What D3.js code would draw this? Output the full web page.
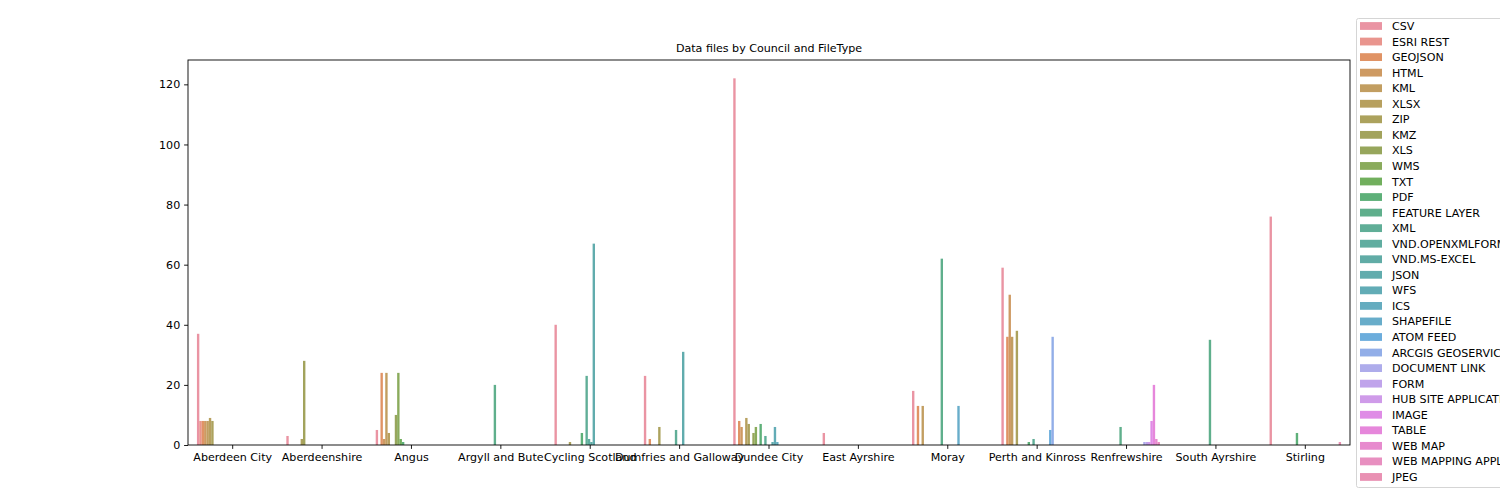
<!DOCTYPE html>
<html>
<head>
<meta charset="utf-8">
<script src="https://cdn.jsdelivr.net/npm/d3@7"></script>
<style>
  body { margin: 0; overflow: hidden; background: #fff; }
  svg { font-family: "DejaVu Sans", sans-serif; }
</style>
</head>
<body>
<div id="chart"></div>
<script>
var councils = ["Aberdeen City", "Aberdeenshire", "Angus", "Argyll and Bute", "Cycling Scotland",
    "Dumfries and Galloway", "Dundee City", "East Ayrshire", "Moray", "Perth and Kinross",
    "Renfrewshire", "South Ayrshire", "Stirling"];

var fileTypes = ["CSV", "ESRI REST", "GEOJSON", "HTML", "KML", "XLSX", "ZIP", "KMZ", "XLS", "WMS",
    "TXT", "PDF", "FEATURE LAYER", "XML", "VND.OPENXMLFORMATS-OFFICEDOCUMENT.SPREADSHEETML.SHEET",
    "VND.MS-EXCEL", "JSON", "WFS", "ICS", "SHAPEFILE", "ATOM FEED", "ARCGIS GEOSERVICES REST API",
    "DOCUMENT LINK", "FORM", "HUB SITE APPLICATION", "IMAGE", "TABLE", "WEB MAP",
    "WEB MAPPING APPLICATION", "JPEG"];

// one row per council, one value per file type (same order as fileTypes)
var counts = [
    [37, 8, 8, 8, 8, 9, 8, 0, 0, 0, 0, 0, 0, 0, 0, 0, 0, 0, 0, 0, 0, 0, 0, 0, 0, 0, 0, 0, 0, 0],
    [3, 0, 0, 0, 0, 0, 2, 28, 0, 0, 0, 0, 0, 0, 0, 0, 0, 0, 0, 0, 0, 0, 0, 0, 0, 0, 0, 0, 0, 0],
    [5, 0, 24, 2, 24, 4, 0, 0, 10, 24, 2, 1, 0, 0, 0, 0, 0, 0, 0, 0, 0, 0, 0, 0, 0, 0, 0, 0, 0, 0],
    [0, 0, 0, 0, 0, 0, 0, 0, 0, 0, 0, 0, 20, 0, 0, 0, 0, 0, 0, 0, 0, 0, 0, 0, 0, 0, 0, 0, 0, 0],
    [40, 0, 0, 0, 0, 0, 1, 0, 0, 0, 0, 4, 0, 23, 2, 1, 67, 0, 0, 0, 0, 0, 0, 0, 0, 0, 0, 0, 0, 0],
    [23, 0, 2, 0, 0, 0, 6, 0, 0, 0, 0, 0, 0, 5, 0, 0, 31, 0, 0, 0, 0, 0, 0, 0, 0, 0, 0, 0, 0, 0],
    [122, 0, 8, 6, 0, 9, 7, 0, 4, 6, 0, 7, 0, 3, 0, 0, 1, 6, 1, 0, 0, 0, 0, 0, 0, 0, 0, 0, 0, 0],
    [4, 0, 0, 0, 0, 0, 0, 0, 0, 0, 0, 0, 0, 0, 0, 0, 0, 0, 0, 0, 0, 0, 0, 0, 0, 0, 0, 0, 0, 0],
    [18, 0, 13, 0, 13, 0, 0, 0, 0, 0, 0, 0, 62, 0, 0, 0, 0, 0, 0, 13, 0, 0, 0, 0, 0, 0, 0, 0, 0, 0],
    [59, 0, 36, 50, 36, 0, 38, 0, 0, 0, 0, 1, 0, 2, 0, 0, 0, 0, 0, 0, 5, 36, 0, 0, 0, 0, 0, 0, 0, 0],
    [0, 0, 0, 0, 0, 0, 0, 0, 0, 0, 0, 0, 6, 0, 0, 0, 0, 0, 0, 0, 0, 0, 1, 1, 1, 8, 20, 2, 1, 0],
    [0, 0, 0, 0, 0, 0, 0, 0, 0, 0, 0, 0, 35, 0, 0, 0, 0, 0, 0, 0, 0, 0, 0, 0, 0, 0, 0, 0, 0, 0],
    [76, 0, 0, 0, 0, 0, 0, 0, 0, 0, 0, 4, 0, 0, 0, 0, 0, 0, 0, 0, 0, 0, 0, 0, 0, 0, 0, 0, 0, 1]
];

var yTicks = [0, 20, 40, 60, 80, 100, 120];

// husl palette like seaborn, then desaturated to 0.75 as barplot does
var M = [[3.2406, -1.5372, -0.4986], [-0.9689, 1.8758, 0.0415], [0.0557, -0.2040, 1.0570]];

function maxChroma(L, H) {
    var hrad = H * Math.PI / 180, sinH = Math.sin(hrad), cosH = Math.cos(hrad);
    var sub1 = Math.pow(L + 16, 3) / 1560896;
    var sub2 = sub1 > 0.008856 ? sub1 : L / 903.3;
    var result = Infinity;
    M.forEach(function(r) {
        var t1 = (0.99915 * r[0] + 1.05122 * r[1] + 1.14460 * r[2]) * sub2;
        var rbottom = 0.86330 * r[2] - 0.17266 * r[1];
        var lbottom = 0.12949 * r[2] - 0.38848 * r[0];
        var b1 = (rbottom * sinH + lbottom * cosH) * sub2;
        [0, 1].forEach(function(t) {
            var C = L * (t1 - 1.05122 * t) / (b1 + 0.17266 * sinH * t);
            if (C > 0 && C < result) result = C;
        });
    });
    return result;
}

function huslToRgb(H, S, L) {
    var C = maxChroma(L, H) / 100 * S;
    var hrad = H * Math.PI / 180;
    var U = Math.cos(hrad) * C, V = Math.sin(hrad) * C;
    var fy = (L + 16) / 116;
    var Y = Math.pow(fy, 3) > 0.008856 ? Math.pow(fy, 3) : (116 * fy - 16) / 903.3;
    var vu = U / (13 * L) + 0.19784, vv = V / (13 * L) + 0.46834;
    var X = -(9 * Y * vu) / ((vu - 4) * vv - vu * vv);
    var Z = (9 * Y - 15 * vv * Y - vv * X) / (3 * vv);
    return M.map(function(r) {
        var c = r[0] * X + r[1] * Y + r[2] * Z;
        c = c <= 0.0031308 ? 12.92 * c : 1.055 * Math.pow(c, 1 / 2.4) - 0.055;
        return Math.max(0, Math.min(1, c));
    });
}

var palette = fileTypes.map(function(d, i) {
    var h = ((i / fileTypes.length) + 0.01) % 1 * 359;
    var rgb = huslToRgb(h, 0.9 * 99, 0.65 * 99);
    var c = d3.hsl(d3.rgb(rgb[0] * 255, rgb[1] * 255, rgb[2] * 255));
    c.s *= 0.75;
    return c.formatHex();
});

var width = 1500, height = 500;
var plotLeft = 188, plotRight = 1350, plotTop = 60, plotBottom = 445;
var fs = 11.1;
var barAlpha = 0.85;

var svg = d3.select("#chart")
    .append("svg")
    .attr("width", width)
    .attr("height", height);

var x0 = d3.scaleBand()
    .domain(councils)
    .range([plotLeft, plotRight])
    .paddingInner(0.2)
    .paddingOuter(0.1);

var x1 = d3.scaleBand()
    .domain(fileTypes)
    .range([0, x0.bandwidth()]);

var y = d3.scaleLinear()
    .domain([0, d3.max(counts, function(r) { return d3.max(r); }) * 1.05])
    .range([plotBottom, plotTop]);

var color = d3.scaleOrdinal().domain(fileTypes).range(palette);

var groups = svg.append("g").selectAll("g")
    .data(councils)
    .enter().append("g")
    .attr("transform", function(d) { return "translate(" + x0(d) + ",0)"; });

groups.selectAll("rect")
    .data(function(d, i) {
        return fileTypes.map(function(t, j) { return { type: t, value: counts[i][j] }; });
    })
    .enter().append("rect")
    .attr("x", function(d) { return x1(d.type); })
    .attr("y", function(d) { return y(d.value); })
    .attr("width", x1.bandwidth())
    .attr("height", function(d) { return plotBottom - y(d.value); })
    .attr("fill", function(d) { return color(d.type); })
    .attr("fill-opacity", barAlpha);

var xAxis = svg.append("g")
    .attr("transform", "translate(0," + plotBottom + ")")
    .call(d3.axisBottom(x0).tickSizeOuter(0).tickSize(3.9).tickPadding(3.9));
xAxis.select(".domain").remove();

var yAxis = svg.append("g")
    .attr("transform", "translate(" + plotLeft + ",0)")
    .call(d3.axisLeft(y).tickValues(yTicks).tickSizeOuter(0).tickSize(3.9).tickPadding(3.9));
yAxis.select(".domain").remove();

svg.selectAll(".tick text")
    .attr("font-size", fs)
    .attr("font-family", "DejaVu Sans")
    .attr("fill", "#000");
svg.selectAll(".tick line").attr("stroke", "#000").attr("stroke-width", 0.9);

svg.append("rect")
    .attr("x", plotLeft)
    .attr("y", plotTop)
    .attr("width", plotRight - plotLeft)
    .attr("height", plotBottom - plotTop)
    .attr("fill", "none")
    .attr("stroke", "#000")
    .attr("stroke-width", 0.9);

svg.append("text")
    .attr("x", (plotLeft + plotRight) / 2)
    .attr("y", 51.5)
    .attr("text-anchor", "middle")
    .attr("font-size", fs)
    .attr("fill", "#000")
    .text("Data files by Council and FileType");

// legend
var legend = svg.append("g").attr("transform", "translate(1356,18)");
legend.append("rect")
    .attr("x", 0.5)
    .attr("y", 0.5)
    .attr("width", 400)
    .attr("height", 469)
    .attr("rx", 2)
    .attr("fill", "#fff")
    .attr("fill-opacity", 0.8)
    .attr("stroke", "#d0d0d0")
    .attr("stroke-width", 0.9);

var item = legend.selectAll(".item")
    .data(fileTypes)
    .enter().append("g")
    .attr("class", "item")
    .attr("transform", function(d, i) { return "translate(0," + (8 + i * 15.55) + ")"; });

item.append("rect")
    .attr("x", 4)
    .attr("y", -3.9)
    .attr("width", 22)
    .attr("height", 7.8)
    .attr("fill", function(d) { return color(d); })
    .attr("fill-opacity", barAlpha);

item.append("text")
    .attr("x", 36)
    .attr("dy", "0.36em")
    .attr("font-size", fs)
    .attr("fill", "#000")
    .text(function(d) { return d; });
</script>
</body>
</html>
